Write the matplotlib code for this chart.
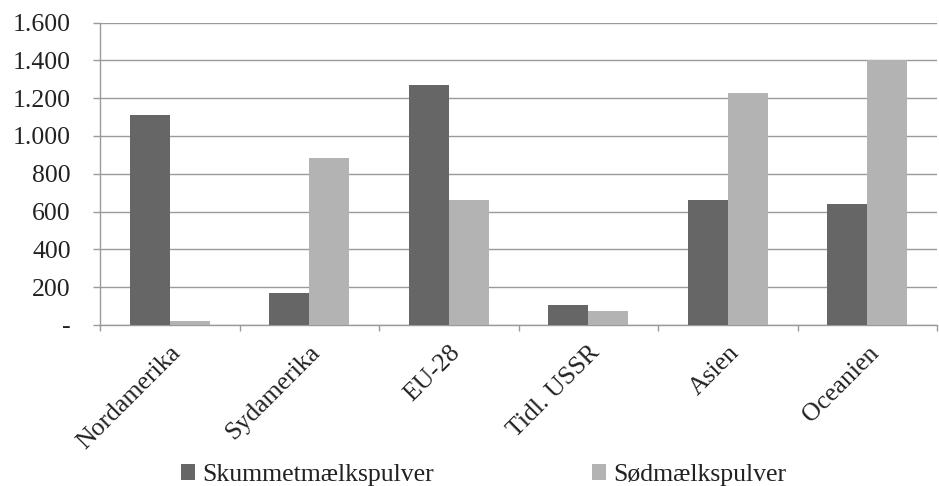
import matplotlib
matplotlib.use("Agg")
import matplotlib.pyplot as plt
import matplotlib.transforms as mtransforms
import numpy as np

regions = ["Nordamerika", "Sydamerika", "EU-28", "Tidl. USSR", "Asien", "Oceanien"]
skummet = [1110, 170, 1270, 105, 660, 640]
sodmaelk = [20, 885, 660, 75, 1230, 1400]
yticks = [0, 200, 400, 600, 800, 1000, 1200, 1400, 1600]
ylabels = ["-", "200", "400", "600", "800", "1.000", "1.200", "1.400", "1.600"]

plt.rcParams["font.family"] = ["Liberation Serif", "DejaVu Serif"]
fs = 18.5
grey = "#9a9a9a"

fig = plt.figure(figsize=(9.39, 4.86), dpi=100)
ax = fig.add_axes([0.1065, 0.3313, 0.8915, 0.6222])

x = np.arange(len(regions))
w = 0.287
ax.bar(x - w / 2, skummet, w, color="#666666", label="Skummetmælkspulver", zorder=3)
ax.bar(x + w / 2, sodmaelk, w, color="#b3b3b3", label="Sødmælkspulver", zorder=3)

ax.set_xlim(-0.5, len(regions) - 0.5)
ax.set_ylim(0, 1600)
ax.set_yticks(yticks)
ax.set_yticklabels(ylabels, fontsize=fs, color="#222222")
ax.yaxis.grid(True, color=grey, linewidth=1.0, zorder=0)

# the "-" for zero sits a bit further left
zero_lbl = ax.get_yticklabels()[0]
zero_lbl.set_transform(zero_lbl.get_transform() +
                       mtransforms.ScaledTranslation(-14 / 100, 0, fig.dpi_scale_trans))

ax.set_xticks(np.arange(len(regions) + 1) - 0.5)
ax.set_xticklabels([])
ax.set_xticks(x, minor=True)
ax.set_xticklabels(regions, minor=True, rotation=45, ha="right",
                   rotation_mode="anchor", fontsize=fs, color="#222222")
ax.tick_params(axis="x", which="minor", length=0, pad=12)
ax.tick_params(axis="x", which="major", length=4.5, color=grey, width=1.0)
ax.tick_params(axis="y", length=5, color=grey, width=1.0, pad=16)

for s in ["top", "right"]:
    ax.spines[s].set_visible(False)
for s in ["left", "bottom"]:
    ax.spines[s].set_color(grey)
    ax.spines[s].set_linewidth(1.0)

leg = fig.legend(loc="center left", bbox_to_anchor=(0.1928, 0.022), ncol=2, frameon=False,
                 fontsize=fs, handlelength=0.55, handleheight=0.55, handletextpad=0.27,
                 columnspacing=6.15, borderpad=0, borderaxespad=0)
for t in leg.get_texts():
    t.set_color("#222222")

fig.savefig("out.png", dpi=100)
